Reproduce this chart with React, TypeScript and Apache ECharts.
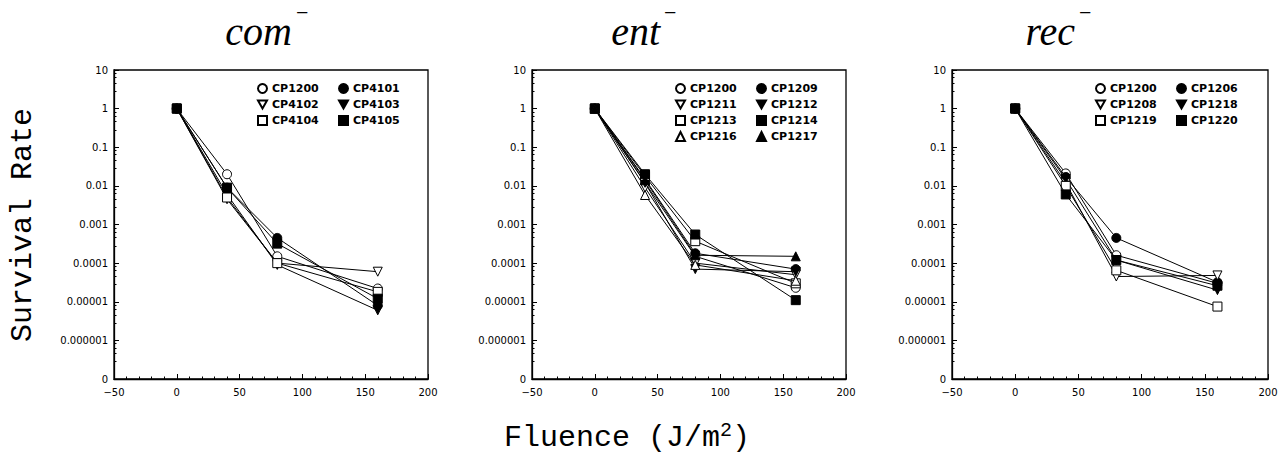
import React, { useEffect, useRef } from "react";
import * as echarts from "echarts";

const FLUENCE = [0, 40, 80, 160];
const PANEL_TITLES = ["com", "ent", "rec"];

const COM_NAMES = ["CP1200", "CP4101", "CP4102", "CP4103", "CP4104", "CP4105"];
const COM_VALUES = [
  [1, 0.02, 0.00015, 0.000022],
  [1, 0.009, 0.00045, 0.000008],
  [1, 0.0045, 0.0001, 0.00006],
  [1, 0.006, 0.00009, 0.000006],
  [1, 0.005, 0.0001, 0.000018],
  [1, 0.009, 0.00032, 0.000012],
];

const ENT_NAMES = ["CP1200", "CP1209", "CP1211", "CP1212", "CP1213", "CP1214", "CP1216", "CP1217"];
const ENT_VALUES = [
  [1, 0.012, 0.00015, 0.000023],
  [1, 0.015, 0.00018, 0.00007],
  [1, 0.009, 0.0001, 0.00005],
  [1, 0.012, 0.00007, 0.00006],
  [1, 0.018, 0.00037, 0.00003],
  [1, 0.02, 0.00055, 0.000011],
  [1, 0.0058, 0.00009, 0.000035],
  [1, 0.014, 0.00016, 0.00015],
];

const REC_NAMES = ["CP1200", "CP1206", "CP1208", "CP1218", "CP1219", "CP1220"];
const REC_VALUES = [
  [1, 0.021, 0.00016, 0.00003],
  [1, 0.017, 0.00045, 0.000032],
  [1, 0.012, 0.000045, 0.000048],
  [1, 0.015, 0.00012, 0.00002],
  [1, 0.01, 0.000065, 0.0000075],
  [1, 0.006, 0.00012, 0.000026],
];

const DOWN_TRI = "path://M0,0L2,0L1,1.75Z";
const MARKERS = [
  { symbol: "circle", filled: false },
  { symbol: "circle", filled: true },
  { symbol: DOWN_TRI, filled: false },
  { symbol: DOWN_TRI, filled: true },
  { symbol: "rect", filled: false },
  { symbol: "rect", filled: true },
  { symbol: "triangle", filled: false },
  { symbol: "triangle", filled: true },
];

const PANELS = [
  { key: "com", names: COM_NAMES, values: COM_VALUES },
  { key: "ent", names: ENT_NAMES, values: ENT_VALUES },
  { key: "rec", names: REC_NAMES, values: REC_VALUES },
];

const GRID_LEFTS = [114, 532, 952];
const GRID_WIDTHS = [314, 314, 316];
const GRID_TOP = 70;
const GRID_HEIGHT = 309;

const TICK_FONT = "DejaVu Sans";

function fmtLog(v: number): string {
  if (v < 1.5e-7) return "0";
  const e = Math.round(Math.log10(v));
  if (e >= 0) return String(Math.round(v));
  return v.toFixed(-e);
}

export default function App() {
  const ref = useRef<HTMLDivElement>(null);
  useEffect(() => {
    if (!ref.current) return;
    document.body.style.margin = "0";
    const chart = echarts.init(ref.current, null, { renderer: "svg" });

    const grids: any[] = [];
    const xAxes: any[] = [];
    const yAxes: any[] = [];
    const series: any[] = [];
    const legends: any[] = [];
    const graphics: any[] = [];

    PANELS.forEach((p, i) => {
      grids.push({
        left: GRID_LEFTS[i],
        top: GRID_TOP,
        width: GRID_WIDTHS[i],
        height: GRID_HEIGHT,
        show: true,
        borderColor: "#000",
        borderWidth: 1.3,
        backgroundColor: "transparent",
      });
      xAxes.push({
        type: "value",
        gridIndex: i,
        min: -50,
        max: 200,
        interval: 50,
        axisLine: { show: true, onZero: false, lineStyle: { color: "#000", width: 1.3 } },
        axisTick: { show: true, inside: true, length: 5, lineStyle: { color: "#000" } },
        minorTick: { show: true, splitNumber: 5, length: 2.5, lineStyle: { color: "#000" } },
        splitLine: { show: false },
        axisLabel: {
          color: "#000",
          fontFamily: TICK_FONT,
          fontSize: 10,
          margin: 8,
          formatter: (v: number) => String(v).replace("-", "\u2212"),
        },
      });
      yAxes.push({
        type: "log",
        gridIndex: i,
        logBase: 10,
        min: 1e-7,
        max: 10,
        axisLine: { show: true, onZero: false, lineStyle: { color: "#000", width: 1.3 } },
        axisTick: { show: true, inside: true, length: 5, lineStyle: { color: "#000" } },
        minorTick: { show: true, splitNumber: 5, length: 2.5, lineStyle: { color: "#000" } },
        splitLine: { show: false },
        axisLabel: {
          color: "#000",
          fontFamily: TICK_FONT,
          fontSize: 10,
          margin: 6,
          formatter: fmtLog,
        },
      });
      p.names.forEach((n, j) => {
        const m = MARKERS[j];
        series.push({
          type: "line",
          name: p.key + ":" + n,
          xAxisIndex: i,
          yAxisIndex: i,
          data: FLUENCE.map((x, k) => [x, p.values[j][k]]),
          symbol: m.symbol,
          symbolSize: 9,
          showAllSymbol: true,
          itemStyle: { color: m.filled ? "#000" : "#fff", borderColor: "#000", borderWidth: 1 },
          lineStyle: { color: "#000", width: 1 },
          emphasis: { disabled: true },
          z: 2 + j,
        });
      });
      legends.push({
        left: GRID_LEFTS[i] + 143,
        top: 82,
        width: 162,
        orient: "horizontal",
        itemGap: 3,
        itemWidth: 9,
        itemHeight: 9,
        padding: 0,
        selectedMode: false,
        data: p.names.map((n, j) => ({ name: p.key + ":" + n, icon: MARKERS[j].symbol })),
        formatter: (name: string) => name.split(":")[1],
        textStyle: {
          fontFamily: TICK_FONT,
          fontWeight: "bold",
          fontSize: 11,
          color: "#000",
          width: 63,
          lineHeight: 13,
        },
      });
    });

    const titleRight = [292, 660, 1075];
    PANEL_TITLES.forEach((t, i) => {
      graphics.push({
        type: "text",
        x: titleRight[i],
        y: 31,
        style: {
          text: t,
          fill: "#000",
          font: "italic 40px 'Liberation Serif'",
          textAlign: "right",
          textVerticalAlign: "middle",
        },
      });
      graphics.push({
        type: "text",
        x: titleRight[i] + 4,
        y: 12,
        style: {
          text: "\u2212",
          fill: "#000",
          font: "22px 'Liberation Serif'",
          textAlign: "left",
          textVerticalAlign: "middle",
        },
      });
    });

    graphics.push({
      type: "text",
      x: 23,
      y: 225,
      rotation: Math.PI / 2,
      style: {
        text: "Survival Rate",
        fill: "#000",
        font: "30px 'Liberation Mono'",
        textAlign: "center",
        textVerticalAlign: "middle",
      },
    });
    graphics.push({
      type: "text",
      x: 627,
      y: 438,
      style: {
        text: "{a|Fluence (J/m}{s|2}{a|)}",
        fill: "#000",
        textAlign: "center",
        textVerticalAlign: "middle",
        rich: {
          a: { fontFamily: "Liberation Mono", fontSize: 30, lineHeight: 36, fill: "#000" },
          s: { fontFamily: "Liberation Mono", fontSize: 20, lineHeight: 18, verticalAlign: "top", fill: "#000" },
        },
      },
    });

    chart.setOption({
      animation: false,
      backgroundColor: "#fff",
      grid: grids,
      xAxis: xAxes,
      yAxis: yAxes,
      legend: legends,
      series,
      graphic: graphics,
    });
    return () => chart.dispose();
  }, []);
  return <div ref={ref} style={{ width: 1283, height: 462 }} />;
}
